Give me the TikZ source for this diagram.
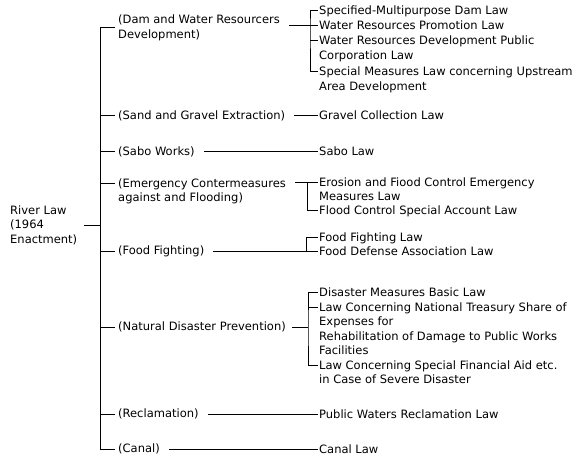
\documentclass[tikz,border=0pt]{standalone}
\usepackage{fontspec}
\setmainfont{DejaVu Sans}
\usepackage{xcolor}
\usetikzlibrary{positioning}
\definecolor{ink}{HTML}{000000}
\newcommand\chartfont{\fontsize{11.5}{14.5}\selectfont}
\tikzset{rl/.style={line width=1pt, color=ink}, root/.style={anchor=west, inner sep=0pt, align=left, font=\chartfont, text=ink}, cat/.style={anchor=west, inner xsep=3pt, inner ysep=1pt, align=left, font=\chartfont, text=ink}, law/.style={anchor=base west, yshift=-4pt, inner xsep=1pt, inner ysep=1pt, align=left, font=\chartfont, text=ink}, twoline/.style={yshift=-14.5pt}, fourline/.style={yshift=-43.5pt}}
\begin{document}
\begin{tikzpicture}[x=1pt,y=-1pt]
\path[use as bounding box, fill=white] (0,0) rectangle (580,465);
\coordinate (trk) at (100,0);
\node[root] (river) at (10,225) {River Law\\(1964\\Enactment)};
\node[cat] (dam) at (115,28) {(Dam and Water Resourcers\\Development)};
\node[cat] (sand) at (115,116) {(Sand and Gravel Extraction)};
\node[cat] (sabo) at (115,152) {(Sabo Works)};
\node[cat,anchor=base west] (emerg) at (115,201.5) {(Emergency Contermeasures\\against and Flooding)};
\node[cat] (food) at (115,251) {(Food Fighting)};
\node[cat] (natur) at (115,327) {(Natural Disaster Prevention)};
\node[cat] (recl) at (115,414) {(Reclamation)};
\node[cat] (canal) at (115,449) {(Canal)};
\coordinate (t-emerg) at ([yshift=18.5pt]emerg.base west);
\path (318,11) coordinate (t-spec) node[law] (spec) {Specified-Multipurpose Dam Law};
\path (318,26) coordinate (t-promo) node[law] (promo) {Water Resources Promotion Law};
\path (318,41) coordinate (t-wrdev) node[law,twoline] (wrdev) {Water Resources Development Public\\Corporation Law};
\path (318,72) coordinate (t-upstr) node[law,twoline] (upstr) {Special Measures Law concerning Upstream\\Area Development};
\path (318,116) coordinate (t-gravel) node[law] (gravel) {Gravel Collection Law};
\path (318,152) coordinate (t-sabol) node[law] (sabol) {Sabo Law};
\path (318,182) coordinate (t-erosn) node[law,twoline] (erosn) {Erosion and Fiood Control Emergency\\Measures Law};
\path (318,210) coordinate (t-fcacc) node[law] (fcacc) {Flood Control Special Account Law};
\path (318,237) coordinate (t-fflaw) node[law] (fflaw) {Food Fighting Law};
\path (318,251) coordinate (t-fdlaw) node[law] (fdlaw) {Food Defense Association Law};
\path (318,292) coordinate (t-dmlaw) node[law] (dmlaw) {Disaster Measures Basic Law};
\path (318,307) coordinate (t-treas) node[law,fourline] (treas) {Law Concerning National Treasury Share of\\Expenses for\\Rehabilitation of Damage to Public Works\\Facilities};
\path (318,365) coordinate (t-finaid) node[law,twoline] (finaid) {Law Concerning Special Financial Aid etc.\\in Case of Severe Disaster};
\path (318,414) coordinate (t-pwlaw) node[law] (pwlaw) {Public Waters Reclamation Law};
\path (318,449) coordinate (t-cnlaw) node[law] (cnlaw) {Canal Law};
\coordinate (bdam) at (310,26); \coordinate (bemg) at (307,182); \coordinate (bfood) at (306,251); \coordinate (bnat) at (308,327);
\draw[rl] (dam.west) -- (trk |- dam.west) -- (trk |- canal.west) -- (canal.west);
\draw[rl,shorten <=7pt] (river.east) -- (trk |- river.east);
\foreach \c in {sand,sabo,food,natur,recl} \draw[rl] (trk |- \c.west) -- (\c.west);
\draw[rl] (trk |- t-emerg) -- (t-emerg);
\draw[rl,shorten <=6pt] (dam.east |- bdam) -- (t-promo);
\draw[rl] (t-spec) -| (bdam) |- (t-upstr); \draw[rl] (bdam |- t-wrdev) -- (t-wrdev);
\draw[rl,shorten <=6pt] (sand.east |- t-gravel) -- (t-gravel);
\draw[rl,shorten <=6pt] (sabo.east |- t-sabol) -- (t-sabol);
\draw[rl,shorten <=6pt] (emerg.east |- t-erosn) -- (t-erosn); \draw[rl] (bemg) |- (t-fcacc);
\draw[rl,shorten <=6pt] (food.east |- t-fdlaw) -- (t-fdlaw); \draw[rl] (t-fflaw) -| (bfood);
\draw[rl,shorten <=3pt] (natur.east |- bnat) -- (bnat); \draw[rl] (t-dmlaw) -| (bnat) |- (t-finaid); \draw[rl] (bnat |- t-treas) -- (t-treas);
\draw[rl,shorten <=6pt] (recl.east |- t-pwlaw) -- (t-pwlaw);
\draw[rl,shorten <=6pt] (canal.east |- t-cnlaw) -- (t-cnlaw);
\end{tikzpicture}
\end{document}
